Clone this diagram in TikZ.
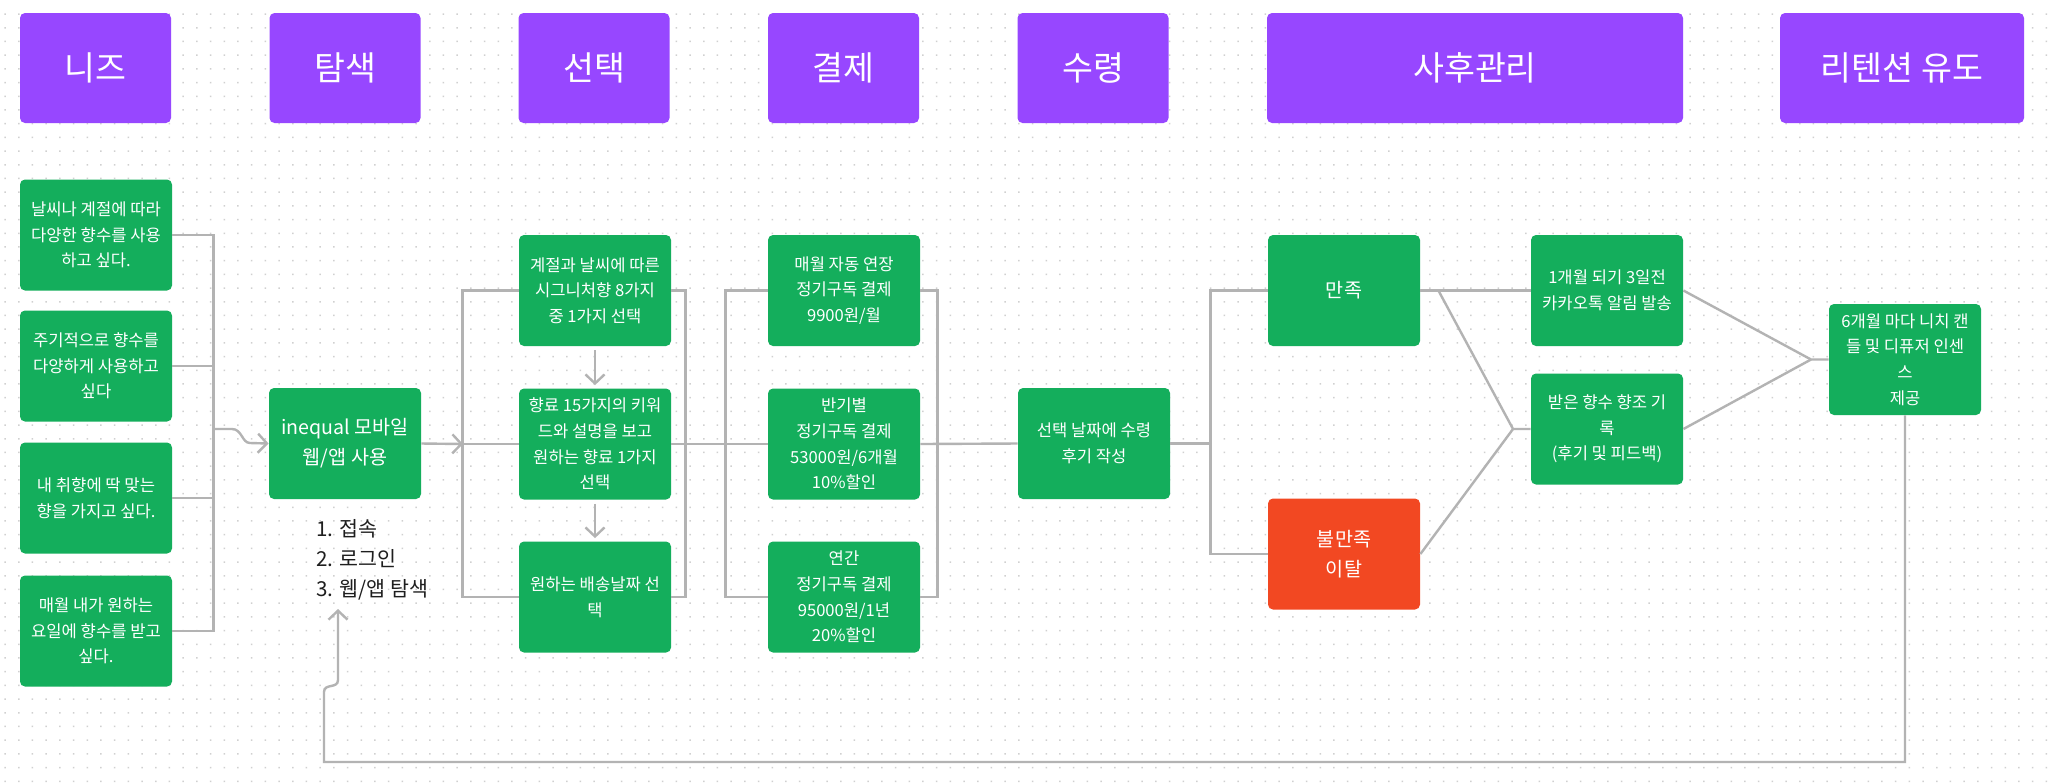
\documentclass[tikz,border=0pt]{standalone}
\usepackage{fontspec}
\setmainfont{Noto Sans CJK KR}
\usetikzlibrary{arrows.meta,calc}
\definecolor{Stage}{HTML}{9747FF}
\definecolor{Step}{HTML}{14AE5C}
\definecolor{Drop}{HTML}{F24822}
\definecolor{Wire}{HTML}{B3B3B3}
\definecolor{Grid}{HTML}{D0D0D0}
\definecolor{Ink}{HTML}{1E1E1E}
\tikzset{stage/.style={rectangle,rounded corners=2.5pt,fill=Stage,text=white,minimum width=75.5pt,minimum height=55pt,align=center,font=\fontsize{16.8}{20}\selectfont},stepbox/.style={rectangle,rounded corners=2.5pt,fill=Step,text=white,minimum width=76pt,minimum height=55.5pt,inner sep=2pt,align=center,font=\fontsize{8.3}{12.8}\selectfont},bigstep/.style={stepbox,font=\fontsize{9.8}{15}\selectfont},dropbox/.style={bigstep,fill=Drop},link/.style={draw=Wire,line width=1.2pt},arrowlink/.style={link,-{Straight Barb[length=4.5pt,width=9.5pt]}}}

\begin{document}
\begin{tikzpicture}[x=0.5pt,y=-0.5pt]
\fill[white] (0,0) rectangle (2048,783);
\foreach \j in {0,...,56}{\fill[Grid] \foreach \i in {0,...,149}{(4.3+13.7*\i,13.3+13.7*\j) rectangle ++(1.5,1.5)};}
% stage headers
\node[stage] (hNeeds) at (95.5,68) {니즈};
\node[stage] (hSearch) at (345,68) {탐색};
\node[stage] (hSelect) at (594,68) {선택};
\node[stage] (hPay) at (843.5,68) {결제};
\node[stage] (hRecv) at (1093,68) {수령};
\node[stage,minimum width=208pt] (hCare) at (1475,68) {사후관리};
\node[stage,minimum width=122pt] (hRetain) at (1902,68) {리텐션 유도};
% needs
\node[stepbox] (need1) at (96,235) {날씨나 계절에 따라\\다양한 향수를 사용\\하고 싶다.};
\node[stepbox] (need2) at (96,366) {주기적으로 향수를\\다양하게 사용하고\\싶다};
\node[stepbox] (need3) at (96,498) {내 취향에 딱 맞는\\향을 가지고 싶다.};
\node[stepbox] (need4) at (96,631) {매월 내가 원하는\\요일에 향수를 받고\\싶다.};
% search
\node[bigstep] (app) at (345,443.5) {inequal 모바일\\웹/앱 사용};
\node[anchor=north west,inner sep=0pt,align=left,text=Ink,font=\fontsize{10.3}{15}\selectfont] (appSteps) at (316,519) {1. 접속\\2. 로그인\\3. 웹/앱 탐색};
% select
\node[stepbox] (sel1) at (595,290.5) {계절과 날씨에 따른\\시그니처향 8가지\\중 1가지 선택};
\node[stepbox] (sel2) at (595,444) {향료 15가지의 키워\\드와 설명을 보고\\원하는 향료 1가지\\선택};
\node[stepbox] (sel3) at (595,597) {원하는 배송날짜 선\\택};
% pay
\node[stepbox] (pay1) at (844,290.5) {매월 자동 연장\\정기구독 결제\\9900원/월};
\node[stepbox] (pay2) at (844,444) {반기별\\정기구독 결제\\53000원/6개월\\10\%할인};
\node[stepbox] (pay3) at (844,597) {연간\\정기구독 결제\\95000원/1년\\20\%할인};
% receive and care
\node[stepbox] (recv) at (1094,443.5) {선택 날짜에 수령\\후기 작성};
\node[bigstep] (happy) at (1344,290.5) {만족};
\node[dropbox] (unhappy) at (1344,554) {불만족\\이탈};
\node[stepbox] (alarm) at (1607,290.5) {1개월 되기 3일전\\카카오톡 알림 발송};
\node[stepbox] (review) at (1607,429) {받은 향수 향조 기\\록\\(후기 및 피드백)};
\node[stepbox] (gift) at (1905,359.5) {6개월 마다 니치 캔\\들 및 디퓨저 인센\\스\\제공};
\coordinate (needBus) at (213,429);
\coordinate (selBus) at (463,444);
\coordinate (careJoin) at (1513,429);
\coordinate (retJoin) at (1811,359.5);
\coordinate (loopEnd) at (338,609);
\draw[link] (need1.east) -- ++(41,0) |- (need4.east);
\draw[link] (need2.east) -- ++(41,0);
\draw[link] (need3.east) -- ++(41,0);
\draw[arrowlink] (needBus) -- ++(19,0) .. controls +(10,0) and +(-8,0) .. ++(18,14) -- (app.west);
\draw[arrowlink] (app.east) -- (selBus);
\draw[link] (selBus) -- (sel2.west);
\draw[link] (sel1.west) -- ++(-56,0) |- (sel3.west);
\draw[link] (sel1.east) -- ++(14,0) |- (sel3.east);
\draw[arrowlink,shorten <=2pt,shorten >=1.5pt] (sel1) -- (sel2);
\draw[arrowlink,shorten <=2pt,shorten >=1.5pt] (sel2) -- (sel3);
\draw[link] (sel2.east) -- (pay2.west);
\draw[link] (pay1.west) -- ++(-42,0) |- (pay3.west);
\draw[link] (pay1.east) -- ++(17,0) |- (pay3.east);
\draw[link] (pay2.east) -- (recv.west);
\draw[link] (recv.east) -- ++(41,0);
\draw[link] (happy.west) -- ++(-57,0) |- (unhappy.west);
\draw[link] (happy.east) -- (alarm.west);
\draw[link] ($(happy.east)+(18,0)$) -- (careJoin) -- (review.west);
\draw[link] (unhappy.east) -- (careJoin);
\draw[link] (alarm.east) -- (retJoin) -- (gift.west);
\draw[link] (review.east) -- (retJoin);
\draw[arrowlink] (gift.south) |- (324,762) -- (324,692) .. controls (324,683) and (338,689) .. (338,680) -- (loopEnd);
\end{tikzpicture}
\end{document}
